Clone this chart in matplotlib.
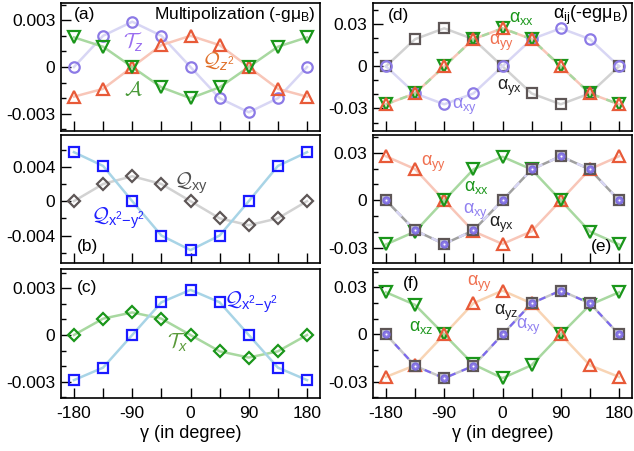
import matplotlib
matplotlib.use("Agg")
import matplotlib.pyplot as plt
from matplotlib.ticker import FixedLocator, MultipleLocator, FixedFormatter

plt.rcParams['font.family'] = ['Liberation Sans', 'DejaVu Sans']
plt.rcParams['mathtext.fontset'] = 'custom'
plt.rcParams['mathtext.rm'] = 'Liberation Sans'
plt.rcParams['mathtext.it'] = 'Liberation Sans:italic'
plt.rcParams['mathtext.bf'] = 'Liberation Sans:bold'
plt.rcParams['mathtext.cal'] = 'cmsy10'

# rotation angle gamma (degree)
gamma = [-180, -135, -90, -45, 0, 45, 90, 135, 180]

# (a) multipoles
Tz = [0, 0.002, 0.0029, 0.002, 0, -0.002, -0.0029, -0.002, 0]
Qz2 = [-0.0019, -0.0014, 0, 0.0014, 0.002, 0.0014, 0, -0.0014, -0.0019]
A = [0.0019, 0.0013, 0, -0.0013, -0.002, -0.0013, 0, 0.0013, 0.0019]

# (b)
Qx2y2_b = [0.0057, 0.0041, 0, -0.004, -0.0057, -0.004, 0, 0.0041, 0.0057]
Qxy_b = [0, 0.002, 0.0029, 0.002, 0, -0.002, -0.0028, -0.002, 0]

# (c)
Qx2y2_c = [-0.0029, -0.0021, 0, 0.0021, 0.0029, 0.0021, 0, -0.0021, -0.0029]
Tx_c = [0, 0.00105, 0.00145, 0.00105, 0, -0.00105, -0.00145, -0.00105, 0]

# (d) alpha_ij
axx_d = [-0.027, -0.0193, 0, 0.0193, 0.027, 0.0193, 0, -0.0193, -0.027]
ayy_d = [-0.027, -0.0193, 0, 0.0193, 0.027, 0.0193, 0, -0.0193, -0.027]
axy_d = [0, -0.0193, -0.027, -0.0193, 0, 0.0193, 0.027, 0.0193, 0]
ayx_d = [0, 0.0193, 0.027, 0.0193, 0, -0.0193, -0.027, -0.0193, 0]

# (e)
ayy_e = [0.0278, 0.0197, 0, -0.0195, -0.0275, -0.0195, 0, 0.0197, 0.0278]
axx_e = [-0.0278, -0.0197, 0, 0.0195, 0.0275, 0.0195, 0, -0.0197, -0.0278]
axy_e = [0, -0.019, -0.0275, -0.019, 0, 0.0195, 0.0278, 0.0195, 0]
ayx_e = [0, -0.019, -0.0275, -0.019, 0, 0.0195, 0.0278, 0.0195, 0]

# (f)
axz_f = [0.0268, 0.0188, 0, -0.019, -0.0278, -0.0195, 0, 0.0188, 0.0268]
ayy_f = [-0.027, -0.0196, 0, 0.0198, 0.0279, 0.0198, 0, -0.0196, -0.027]
axy_f = [0, -0.02, -0.0278, -0.02, 0, 0.0198, 0.0279, 0.0198, 0]
ayz_f = [0, -0.02, -0.0278, -0.02, 0, 0.0198, 0.0279, 0.0198, 0]

# colours
purple = '#8c7ae6'
purple_line = '#d8d6f4'
orange = '#e85a38'
orange_line = '#f8c6b8'
green = '#1a961a'
green_line = '#a8d8a0'
blue = '#1a1aff'
blue_line = '#a8d4e6'
gray = '#5e5656'
gray_line = '#d2d2d2'

fig = plt.figure(figsize=(6.34, 4.51), dpi=100)
W, H = 634, 451


def make_ax(x0, top, bottom):
    ax = fig.add_axes([x0 / W, (H - bottom) / H, 259 / W, (bottom - top) / H])
    for s in ax.spines.values():
        s.set_linewidth(1.2)
    ax.set_xlim(-200, 200)
    ax.xaxis.set_major_locator(FixedLocator(gamma))
    ax.tick_params(which='both', direction='in', width=1.0, labelsize=12.5)
    ax.tick_params(which='major', length=7)
    ax.tick_params(which='minor', length=3.5)
    ax.tick_params(axis='y', pad=4)
    ax.tick_params(axis='x', pad=6)
    ax.xaxis.set_major_formatter(FixedFormatter(['', '', '', '', '', '', '', '', '']))
    return ax


def set_y(ax, lim, major, labels, minor):
    ax.set_ylim(*lim)
    ax.yaxis.set_major_locator(FixedLocator(major))
    ax.yaxis.set_major_formatter(FixedFormatter(labels))
    ax.yaxis.set_minor_locator(MultipleLocator(minor))


def xlabels(ax):
    ax.xaxis.set_major_formatter(FixedFormatter(['-180', '', '-90', '', '0', '', '90', '', '180']))
    ax.set_xlabel('γ (in degree)', fontsize=13, labelpad=3)


mk = dict(mfc='none', mew=1.6)
LW = 1.8

# ---------------- (a) ----------------
ax = make_ax(61, 3, 131)
set_y(ax, (-0.0041, 0.0041), [-0.003, 0, 0.003], ['-0.003', '0', '0.003'], 0.001)
ax.plot(gamma, Tz, '-', color=purple_line, lw=LW, zorder=1)
ax.plot(gamma, Qz2, '-', color=orange_line, lw=LW, zorder=1)
ax.plot(gamma, A, '-', color=green_line, lw=LW, zorder=1)
ax.plot(gamma, Tz, 'o', ms=7.5, mec=purple, **mk)
ax.plot(gamma, Qz2, '^', ms=8.5, mec=orange, **mk)
ax.plot(gamma, A, 'v', ms=8.5, mec=green, **mk)
ax.text(0.05, 0.91, '(a)', transform=ax.transAxes, fontsize=12.5, va='center')
ax.text(0.985, 0.91, r'Multipolization (-gμ$_{\rm B}$)', transform=ax.transAxes,
        fontsize=12.5, va='center', ha='right')
ax.text(-88, 0.0016, r'$\mathcal{T}_z$', color='#9a6ef0', fontsize=15,
        ha='center', va='center')
ax.text(42, 0.0003, r'$\mathcal{Q}_{z^2}$', color='#e0702a', fontsize=15,
        ha='center', va='center')
ax.text(-88, -0.0015, r'$\mathcal{A}$', color='#4a9a3a', fontsize=15,
        ha='center', va='center')

# ---------------- (b) ----------------
ax = make_ax(61, 135, 263)
set_y(ax, (-0.0072, 0.0077), [-0.004, 0, 0.004], ['-0.004', '0', '0.004'], 0.002)
ax.plot(gamma, Qxy_b, '-', color=gray_line, lw=LW, zorder=1)
ax.plot(gamma, Qx2y2_b, '-', color=blue_line, lw=LW, zorder=1)
ax.plot(gamma, Qxy_b, 'D', ms=6.5, mec=gray, **mk)
ax.plot(gamma, Qx2y2_b, 's', ms=7.5, mec=blue, **mk)
ax.text(0.06, 0.125, '(b)', transform=ax.transAxes, fontsize=12.5, va='center')
ax.text(0, 0.0021, r'$\mathcal{Q}_{\rm xy}$', color='#505050', fontsize=15,
        ha='center', va='center')
ax.text(-112, -0.002, r'$\mathcal{Q}_{\rm x^2{-}y^2}$', color='#2020ff', fontsize=15,
        ha='center', va='center')

# ---------------- (c) ----------------
ax = make_ax(61, 269, 398)
set_y(ax, (-0.00405, 0.00424), [-0.003, 0, 0.003], ['-0.003', '0', '0.003'], 0.001)
ax.plot(gamma, Tx_c, '-', color=green_line, lw=LW, zorder=1)
ax.plot(gamma, Qx2y2_c, '-', color=blue_line, lw=LW, zorder=1)
ax.plot(gamma, Tx_c, 'D', ms=6.5, mec=green, **mk)
ax.plot(gamma, Qx2y2_c, 's', ms=7.5, mec=blue, **mk)
ax.text(0.06, 0.86, '(c)', transform=ax.transAxes, fontsize=12.5, va='center')
ax.text(94, 0.0021, r'$\mathcal{Q}_{\rm x^2{-}y^2}$', color='#2020ff', fontsize=15,
        ha='center', va='center')
ax.text(-20, -0.00045, r'$\mathcal{T}_x$', color='#5a9a3a', fontsize=15,
        ha='center', va='center')
xlabels(ax)

# ---------------- (d) ----------------
ax = make_ax(373, 3, 131)
set_y(ax, (-0.046, 0.045), [-0.03, 0, 0.03], ['-0.03', '0', '0.03'], 0.01)
ax.plot(gamma, ayx_d, '-', color=gray_line, lw=LW, zorder=1)
ax.plot(gamma, axy_d, '-', color=purple_line, lw=LW, zorder=1)
ax.plot(gamma, ayy_d, '-', color=orange_line, lw=LW, zorder=1)
ax.plot(gamma, axx_d, '--', color=green_line, lw=LW, dashes=(3, 3), zorder=1)
ax.plot(gamma, ayx_d, 's', ms=7.5, mec=gray, **mk)
ax.plot(gamma, axy_d, 'o', ms=7.5, mec=purple, **mk)
ax.plot(gamma, axx_d, 'v', ms=8.5, mec=green, **mk)
ax.plot(gamma, ayy_d, '^', ms=8.5, mec=orange, **mk)
ax.text(0.058, 0.906, '(d)', transform=ax.transAxes, fontsize=12.5, va='center')
ax.text(0.985, 0.906, r'α$_{\rm ij}$(-egμ$_{\rm B}$)', transform=ax.transAxes,
        fontsize=13, va='center', ha='right')
ax.text(29, 0.034, r'α$_{\rm xx}$', color=green, fontsize=13, ha='center', va='center')
ax.text(-1, 0.0169, r'α$_{\rm yy}$', color='#f07050', fontsize=13, ha='center', va='center')
ax.text(11, -0.0152, r'α$_{\rm yx}$', color='#202020', fontsize=13, ha='center', va='center')
ax.text(-58, -0.0288, r'α$_{\rm xy}$', color='#9080f0', fontsize=13, ha='center', va='center')

# ---------------- (e) ----------------
ax = make_ax(373, 135, 263)
set_y(ax, (-0.0395, 0.0412), [-0.03, 0, 0.03], ['-0.03', '0', '0.03'], 0.01)
ax.plot(gamma, ayy_e, '-', color=orange_line, lw=LW, zorder=1)
ax.plot(gamma, axx_e, '-', color=green_line, lw=LW, zorder=1)
ax.plot(gamma, ayx_e, '-', color='#a0a0a0', lw=LW, zorder=1)
ax.plot(gamma, axy_e, '--', color=purple_line, lw=LW, dashes=(3, 3), zorder=1)
ax.plot(gamma, ayy_e, '^', ms=8.5, mec=orange, **mk)
ax.plot(gamma, axx_e, 'v', ms=8.5, mec=green, **mk)
ax.plot(gamma, ayx_e, 's', ms=7.5, mec=gray, mfc='#c8c8d0', mew=1.6)
ax.plot(gamma, axy_e, 'o', ms=5, mec='#7c6cde', mfc='#8c7ae6', mew=1)
ax.plot(gamma, axy_e, 'o', ms=1.5, mec='none', mfc='white')
ax.text(0.923, 0.125, '(e)', transform=ax.transAxes, fontsize=12.5, va='center', ha='right')
ax.text(-106, 0.0228, r'α$_{\rm yy}$', color='#f07050', fontsize=13, ha='center', va='center')
ax.text(-40, 0.0082, r'α$_{\rm xx}$', color=green, fontsize=13, ha='center', va='center')
ax.text(-42, -0.007, r'α$_{\rm xy}$', color='#9080f0', fontsize=13, ha='center', va='center')
ax.text(-1.5, -0.0152, r'α$_{\rm yx}$', color='#202020', fontsize=13, ha='center', va='center')

# ---------------- (f) ----------------
ax = make_ax(373, 269, 398)
set_y(ax, (-0.0404, 0.0416), [-0.03, 0, 0.03], ['-0.03', '0', '0.03'], 0.01)
ax.plot(gamma, ayy_f, '-', color='#f8d4b4', lw=LW, zorder=1)
ax.plot(gamma, axz_f, '-', color=green_line, lw=LW, zorder=1)
ax.plot(gamma, ayz_f, '-', color='#c8c8c8', lw=LW, zorder=1)
ax.plot(gamma, axy_f, '--', color='#7b68ee', lw=1.6, dashes=(3, 3), zorder=1)
ax.plot(gamma, axz_f, 'v', ms=8.5, mec=green, **mk)
ax.plot(gamma, ayy_f, '^', ms=8.5, mec=orange, **mk)
ax.plot(gamma, ayz_f, 's', ms=7.5, mec=gray, mfc='#c8c8d0', mew=1.6)
ax.plot(gamma, axy_f, 'o', ms=5, mec='#7c6cde', mfc='#8c7ae6', mew=1)
ax.plot(gamma, axy_f, 'o', ms=1.5, mec='none', mfc='white')
ax.text(0.116, 0.89, '(f)', transform=ax.transAxes, fontsize=12.5, va='center')
ax.text(-36, 0.032, r'α$_{\rm yy}$', color='#f07050', fontsize=13, ha='center', va='center')
ax.text(6, 0.0135, r'α$_{\rm yz}$', color='#202020', fontsize=13, ha='center', va='center')
ax.text(40, 0.0047, r'α$_{\rm xy}$', color='#9080f0', fontsize=13, ha='center', va='center')
ax.text(-125, 0.0047, r'α$_{\rm xz}$', color=green, fontsize=13, ha='center', va='center')
xlabels(ax)

fig.savefig('out.png', dpi=100)
